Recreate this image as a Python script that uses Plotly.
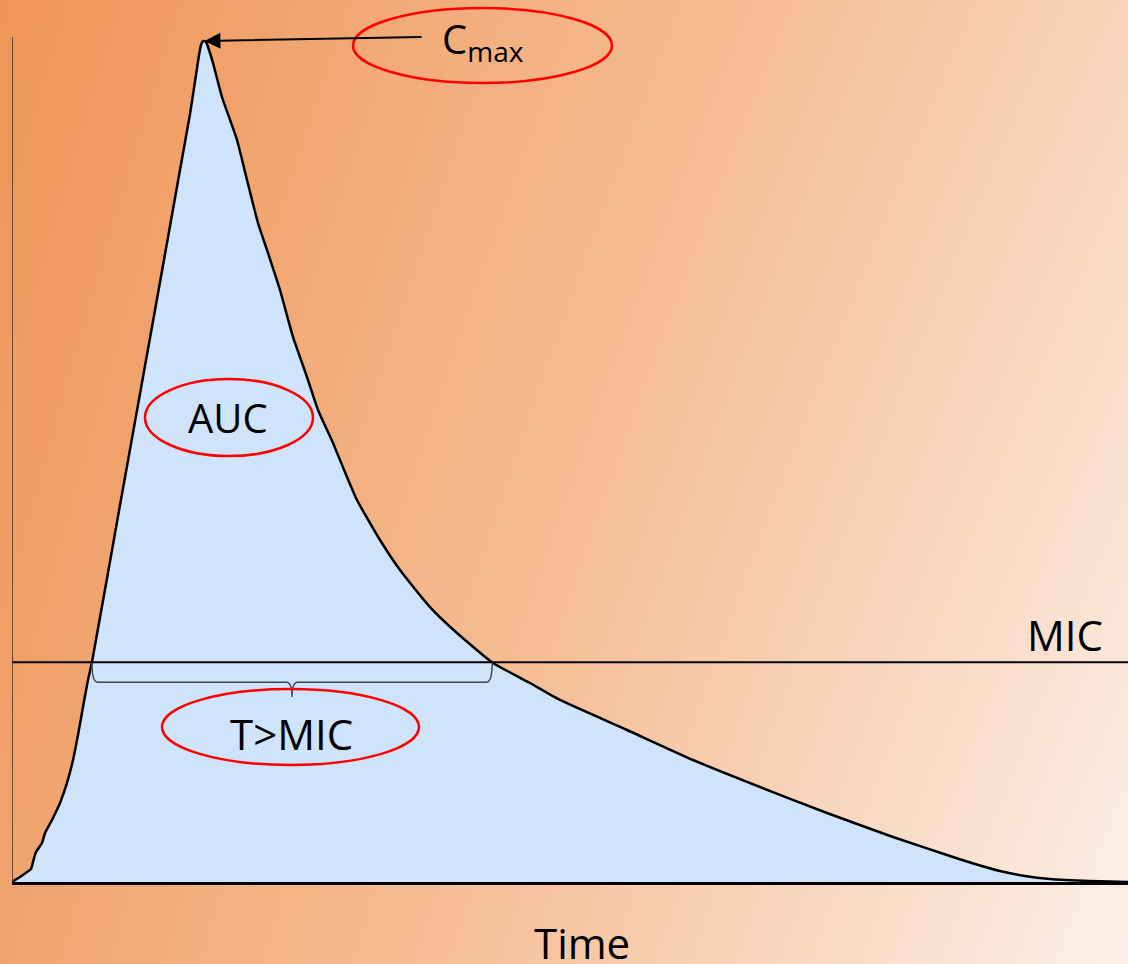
import numpy as np
import plotly.graph_objects as go

# ---------------- data (time in h, concentration in mg/L) ----------------
time_h = [0, 0.172, 0.323, 0.409, 0.452, 0.516, 0.645, 0.710, 0.860, 1.032,
          1.183, 1.312, 1.419, 1.527, 1.634, 1.720, 2.323, 2.968, 3.613, 3.828,
          3.957, 4.022, 4.065, 4.108, 4.172, 4.237, 4.323, 4.516, 4.839, 5.054,
          5.290, 5.484, 5.763, 6.043, 6.344, 6.581, 6.903, 7.204, 7.419, 7.914,
          8.344, 8.989, 9.570, 10.344, 11.140, 11.785, 13.226, 14.645, 16.086, 17.527,
          18.946, 20.172, 20.710, 21.247, 21.785, 22.323, 23.183, 24.0]
conc = [0, 0.059, 0.118, 0.154, 0.237, 0.355, 0.462, 0.580, 0.734, 0.935,
        1.172, 1.444, 1.740, 2.071, 2.391, 2.604, 4.462, 6.438, 8.426, 9.089,
        9.550, 9.787, 9.905, 9.953, 9.941, 9.846, 9.692, 9.290, 8.781, 8.308,
        7.799, 7.479, 7.006, 6.450, 5.976, 5.586, 5.195, 4.793, 4.521, 4.047,
        3.692, 3.254, 2.947, 2.592, 2.355, 2.154, 1.799, 1.444, 1.124, 0.817,
        0.533, 0.308, 0.213, 0.130, 0.071, 0.036, 0.012, 0]
MIC = 2.6
t_end = 24.0
y_axis_top = 10.0
labels = {"cmax": "C<sub>max</sub>", "auc": "AUC", "tmic": "T>MIC",
          "mic": "MIC", "time": "Time"}

# derived quantities
i_max = int(np.argmax(conc))
t_max, c_max = time_h[i_max], conc[i_max]
t_arr = np.array(time_h); c_arr = np.array(conc)
rise = np.interp(MIC, c_arr[:i_max + 1], t_arr[:i_max + 1])
fall = np.interp(MIC, c_arr[i_max:][::-1], t_arr[i_max:][::-1])

FONT = "Open Sans, Noto Sans, sans-serif"

fig = go.Figure()

# gradient background (decorative)
fig.add_trace(go.Heatmap(
    x=[0, 1], y=[0, 1], z=[[0.18, 1.0], [0.0, 0.72]], zmin=0, zmax=1,
    colorscale=[[0, "rgb(239,149,88)"], [0.5, "rgb(245,190,150)"], [1, "rgb(252,240,232)"]],
    zsmooth="best", showscale=False, hoverinfo="skip", xaxis="x", yaxis="y"))

# concentration curve
fig.add_trace(go.Scatter(
    x=time_h, y=conc, xaxis="x2", yaxis="y2", mode="lines",
    line=dict(color="black", width=2.5, shape="spline", smoothing=0.5),
    fill="tozeroy", fillcolor="rgb(207,228,250)", hoverinfo="skip", showlegend=False))

# MIC line
fig.add_trace(go.Scatter(
    x=[0, t_end], y=[MIC, MIC], xaxis="x2", yaxis="y2", mode="lines",
    line=dict(color="black", width=2), hoverinfo="skip", showlegend=False))

shapes = []
# vertical axis
shapes.append(dict(type="line", xref="x2", yref="y2", x0=0, x1=0, y0=0, y1=y_axis_top,
                   line=dict(color="#3a3029", width=1.5), layer="above"))
# brace under MIC line
mid = (rise + fall) / 2
yb = MIC - 0.235
ytip = MIC - 0.41
r = 0.12
path = (f"M {rise},{MIC} Q {rise},{yb} {rise + r},{yb} L {mid - r},{yb} "
        f"Q {mid},{yb} {mid},{ytip} Q {mid},{yb} {mid + r},{yb} "
        f"L {fall - r},{yb} Q {fall},{yb} {fall},{MIC}")
shapes.append(dict(type="path", xref="x2", yref="y2", path=path,
                   line=dict(color="#3b4650", width=1.5)))
# ellipses
red = dict(color="#ff0000", width=2.5)
shapes.append(dict(type="circle", xref="x2", yref="y2", x0=7.333, x1=12.903,
                   y0=9.455, y1=10.343, line=red))
shapes.append(dict(type="circle", xref="x2", yref="y2", x0=2.860, x1=6.473,
                   y0=5.041, y1=5.953, line=red))
shapes.append(dict(type="circle", xref="x2", yref="y2", x0=3.226, x1=8.753,
                   y0=1.385, y1=2.284, line=red))

annotations = [
    dict(x=t_max + 0.03, y=c_max, ax=8.839, ay=10.0, xref="x2", yref="y2",
         axref="x2", ayref="y2", text="", showarrow=True, arrowhead=2,
         arrowsize=1.6, arrowwidth=2, arrowcolor="black", standoff=0),
    dict(x=10.13, y=9.96, xref="x2", yref="y2", text=labels["cmax"], showarrow=False,
         font=dict(family=FONT, size=40, color="black")),
    dict(x=4.65, y=5.50, xref="x2", yref="y2", text=labels["auc"], showarrow=False,
         font=dict(family=FONT, size=40, color="black")),
    dict(x=6.00, y=1.76, xref="x2", yref="y2", text=labels["tmic"], showarrow=False,
         font=dict(family=FONT, size=42, color="black")),
    dict(x=22.65, y=2.93, xref="x2", yref="y2", text=labels["mic"], showarrow=False,
         font=dict(family=FONT, size=42, color="black")),
    dict(x=12.25, y=(964 - 942) / 964, xref="x2", yref="paper", yanchor="middle",
         text=labels["time"], showarrow=False,
         font=dict(family=FONT, size=42, color="black")),
]

fig.update_layout(
    width=1128, height=964, autosize=False,
    margin=dict(l=0, r=0, t=0, b=0, pad=0),
    paper_bgcolor="rgb(245,190,150)", plot_bgcolor="rgba(0,0,0,0)",
    showlegend=False,
    xaxis=dict(domain=[0, 1], range=[0, 1], visible=False, fixedrange=True),
    yaxis=dict(domain=[0, 1], range=[0, 1], visible=False, fixedrange=True),
    xaxis2=dict(domain=[12 / 1128, 1], range=[0, t_end], anchor="y2",
                showgrid=False, zeroline=False, showticklabels=False, ticks="",
                showline=True, linecolor="black", linewidth=3, fixedrange=True),
    yaxis2=dict(domain=[82 / 964, 1], range=[0, 10.438], anchor="x2",
                showgrid=False, zeroline=False, showticklabels=False, ticks="",
                showline=False, fixedrange=True),
    shapes=shapes, annotations=annotations,
)

fig.write_html(
    "out.html",
    config={"displayModeBar": False},
    post_script="document.body.style.margin='0';document.body.style.padding='0';"
                "document.body.style.overflow='hidden';",
)
